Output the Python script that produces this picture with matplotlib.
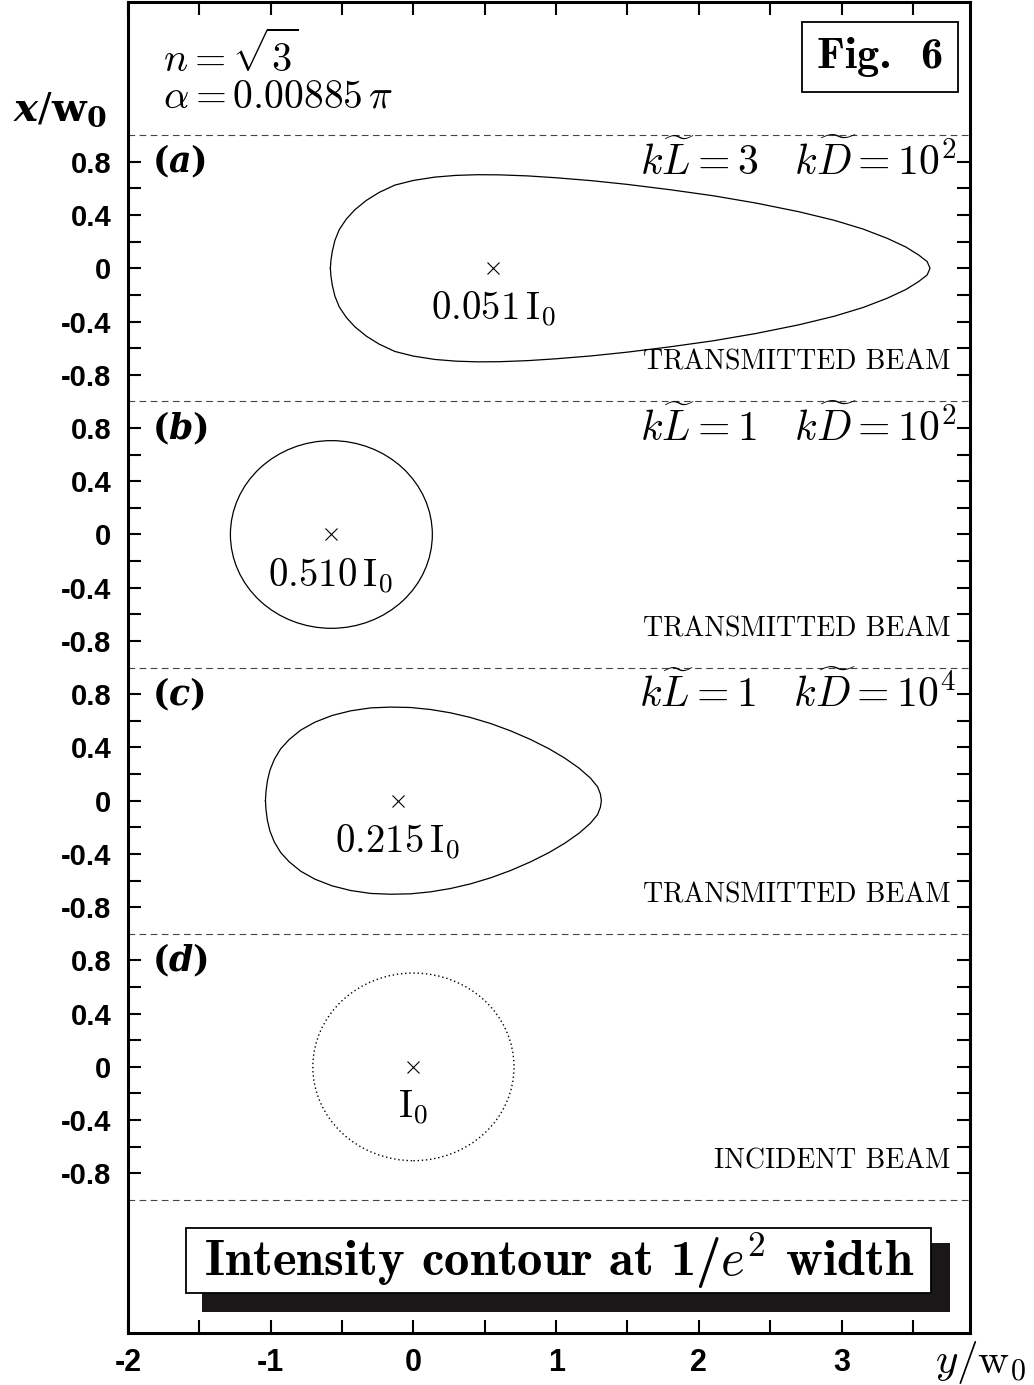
import io
import numpy as np
import matplotlib
matplotlib.use('Agg')
from matplotlib import pyplot as plt
from matplotlib import mathtext
from matplotlib.font_manager import FontProperties
from matplotlib.patches import Ellipse, Rectangle

plt.rcParams['mathtext.fontset'] = 'cm'
plt.rcParams['font.family'] = ['DejaVu Serif']

# centre of each stacked panel on the x/w0 axis
panel_centre = [0.0, -2.0, -4.0, -6.0]
panel_letter = ['a', 'b', 'c', 'd']
kL_values = ['3', '1', '1', None]
kD_values = ['10^2', '10^2', '10^4', None]
beam_names = ['TRANSMITTED BEAM', 'TRANSMITTED BEAM', 'TRANSMITTED BEAM', 'INCIDENT BEAM']
peak_values = ['0.051', '0.510', '0.215', '']
peak_pos = [0.56, -0.58, -0.11, 0.0]

# upper half of contour (a), y/w0 and x/w0 (relative to panel centre)
contour_a_y = [-0.582, -0.578, -0.568, -0.55, -0.52, -0.47, -0.41, -0.33, -0.24, -0.13, 0.0,
               0.15, 0.3, 0.45, 0.6, 0.8, 1.0, 1.25, 1.5, 1.8, 2.1, 2.4, 2.7, 2.95,
               3.15, 3.32, 3.45, 3.54, 3.6, 3.62]
contour_a_x = [0.0, 0.06, 0.13, 0.21, 0.29, 0.37, 0.44, 0.51, 0.57, 0.625, 0.66,
               0.685, 0.698, 0.703, 0.702, 0.694, 0.68, 0.658, 0.63, 0.59, 0.545, 0.49, 0.425, 0.36,
               0.295, 0.225, 0.16, 0.1, 0.05, 0.0]

# upper half of contour (c)
contour_c_y = [-1.037, -1.033, -1.023, -1.005, -0.975, -0.93, -0.87, -0.79, -0.69, -0.57, -0.44,
               -0.30, -0.16, -0.02, 0.12, 0.26, 0.40, 0.54, 0.68, 0.82, 0.95, 1.06, 1.16, 1.24,
               1.29, 1.31, 1.317]
contour_c_x = [0.0, 0.07, 0.15, 0.23, 0.31, 0.39, 0.46, 0.53, 0.59, 0.64, 0.675,
               0.697, 0.703, 0.7, 0.685, 0.66, 0.625, 0.58, 0.525, 0.46, 0.39, 0.32, 0.245, 0.17,
               0.105, 0.05, 0.0]

# near-circular contours (b) and (d): centre y/w0, width, height
circle_b = [-0.575, 1.415, 1.41]
circle_d = [0.0, 1.41, 1.41]

ytick_offsets = [-0.8, -0.6, -0.4, -0.2, 0.0, 0.2, 0.4, 0.6, 0.8]
ytick_text = ['-0.8', '', '-0.4', '', '0', '', '0.4', '', '0.8']
xtick_pos = [-2, -1.5, -1, -0.5, 0, 0.5, 1, 1.5, 2, 2.5, 3, 3.5]
xtick_text = ['-2', '', '-1', '', '0', '', '1', '', '2', '', '3', '']
dash_rows = [1, -1, -3, -5, -7]


def bfit_ok():
    # check that mathtext knows \mathbfit in the dejavuserif set
    try:
        fp = FontProperties(size=12, math_fontfamily='dejavuserif')
        mathtext.math_to_image(r'$\mathbfit{x}$', io.BytesIO(), prop=fp, format='png')
        return True
    except Exception:
        return False


BFIT = bfit_ok()


def bold_italic(s):
    return r'\mathbfit{%s}' % s if BFIT else r'\mathbf{%s}' % s


fig = plt.figure(figsize=(10.34, 13.85), dpi=100)
ax = fig.add_axes([0.1238, 0.0375, 0.8143, 0.9610])
ax.set_xlim(-2, 3.9)
ax.set_ylim(-8, 2)

for s in ax.spines.values():
    s.set_linewidth(2.2)

# ticks
yt, yl = [], []
for c in panel_centre:
    for o, t in zip(ytick_offsets, ytick_text):
        yt.append(c + o)
        yl.append(t)
ax.set_yticks(yt)
ax.set_yticklabels(yl, fontfamily=['Liberation Sans'], fontweight='bold', fontsize=21)
ax.set_xticks(xtick_pos)
ax.set_xticklabels(xtick_text, fontfamily=['Liberation Sans Narrow', 'Liberation Sans'],
                   fontweight='bold', fontsize=22)
ax.tick_params(direction='in', length=9.5, width=1.5, top=True, right=True)
ax.tick_params(axis='y', pad=12)
ax.tick_params(axis='x', pad=11)

for r in dash_rows:
    ax.axhline(r, color='#444444', lw=0.8, ls=(0, (6, 4)))

# contours
ya = np.array(contour_a_y)
xa = np.array(contour_a_x)
ax.plot(np.concatenate([ya, ya[::-1]]), np.concatenate([xa, -xa[::-1]]) + panel_centre[0],
        color='black', lw=0.9)
yc = np.array(contour_c_y)
xc = np.array(contour_c_x)
ax.plot(np.concatenate([yc, yc[::-1]]), np.concatenate([xc, -xc[::-1]]) + panel_centre[2],
        color='black', lw=0.9)
ax.add_patch(Ellipse((circle_b[0], panel_centre[1]), circle_b[1], circle_b[2],
                     fill=False, ec='black', lw=0.9))
ax.add_patch(Ellipse((circle_d[0], panel_centre[3]), circle_d[1], circle_d[2],
                     fill=False, ec='black', lw=1.0, ls=(0, (1, 2))))

# peak markers and labels
for i, c in enumerate(panel_centre):
    ax.plot(peak_pos[i], c, marker='x', color='black', ms=9, mew=0.8)
    lab = r'$%s\,\mathrm{I}_0$' % peak_values[i] if peak_values[i] else r'$\mathrm{I}_0$'
    ax.text(peak_pos[i], c - 0.31, lab, fontsize=28, ha='center', va='center')
    ax.text(-1.835, c + 0.8, r'$\mathbf{(}%s\mathbf{)}$' % bold_italic(panel_letter[i]),
            fontsize=25, ha='left', va='center', math_fontfamily='dejavuserif')
    if kL_values[i]:
        ax.text(3.8, c + 0.8, r'$k\widetilde{L}=%s\quad k\widetilde{D}=%s$' % (kL_values[i], kD_values[i]),
                fontsize=30, ha='right', va='center')
    ax.text(3.765, c - 0.71, beam_names[i], fontsize=20, ha='right', va='center',
            fontfamily='cmr10')

# parameters and figure tag
ax.text(-1.752, 1.60, r'$n=\sqrt{3}$', fontsize=29, ha='left', va='center')
ax.text(-1.752, 1.285, r'$\alpha=0.00885\,\pi$', fontsize=28.5, ha='left', va='center')
ax.text(3.27, 1.585, 'Fig.  6', fontsize=32, fontfamily='cmb10', ha='center', va='center',
        bbox=dict(boxstyle='square,pad=0.34', fc='white', ec='black', lw=1.3))

# caption box with shadow
ax.add_patch(Rectangle((-1.479, -7.844), 5.242, 0.519, fc='#1a1718', ec='none', zorder=3))
ax.add_patch(Rectangle((-1.591, -7.701), 5.221, 0.488, fc='white', ec='black', lw=1.3, zorder=4))
ax.text(1.02, -7.457, r'Intensity contour at 1/$e^\mathbf{2}$ width', fontsize=36.5,
        fontfamily='cmb10', ha='center', va='center', zorder=5)

# axis labels
fig.text(0.058, 0.921, r'$%s/\mathbf{w_0}$' % bold_italic('x'), fontsize=29, ha='center',
         va='center', math_fontfamily='dejavuserif')
fig.text(0.948, 0.016, r'$y/\mathrm{w}_0$', fontsize=31, ha='center', va='center')

fig.savefig('out.png', dpi=100)
